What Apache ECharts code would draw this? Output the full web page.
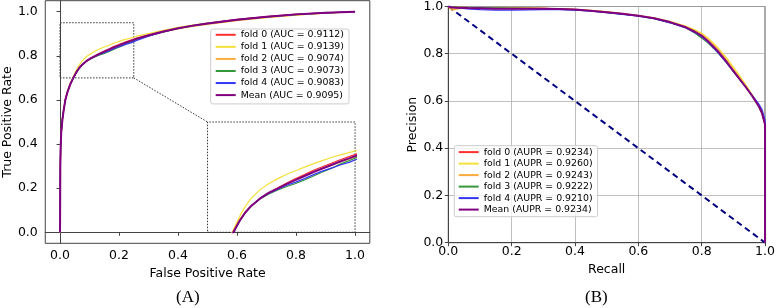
<!DOCTYPE html>
<html>
<head>
<meta charset="utf-8">
<script src="https://cdn.jsdelivr.net/npm/echarts@6/dist/echarts.min.js"></script>
<style>
  html, body { margin: 0; padding: 0; background: #fff; }
  #main { width: 778px; height: 308px; }
</style>
</head>
<body>
<div id="main"></div>
<script>
// ROC (A): shared false positive rate grid, tpr per fold
var fpr = [0, .001, .002, .004, .008, .012, .018, .025, .035, .045, .055, .065, .075, .09, .105, .12, .135, .15, .165, .18, .195, .21, .225, .24, .26, .3, .35, .4, .45, .5, .6, .7, .8, .9, 1];
var tprFold0 = [0, .31, .39, .46, .515, .552, .601, .636, .672, .700, .725, .745, .760, .777, .790, .801, .812, .822, .831, .841, .849, .857, .865, .872, .881, .895, .911, .926, .938, .948, .965, .978, .989, .995, 1];
var tprFold1 = [0, .29, .37, .44, .505, .55, .602, .639, .677, .706, .735, .759, .777, .797, .811, .822, .832, .840, .848, .856, .863, .870, .876, .881, .889, .901, .916, .929, .939, .948, .962, .974, .986, .994, 1];
var tprFold2 = [0, .30, .38, .45, .515, .555, .605, .640, .677, .704, .728, .746, .760, .777, .790, .800, .810, .819, .828, .837, .845, .852, .860, .867, .876, .891, .907, .922, .933, .943, .960, .973, .985, .994, 1];
var tprFold3 = [0, .30, .38, .45, .51, .55, .60, .635, .671, .699, .724, .744, .759, .776, .787, .796, .804, .811, .819, .828, .837, .845, .855, .863, .874, .890, .908, .924, .936, .946, .963, .976, .987, .995, 1];
var tprFold4 = [0, .30, .38, .45, .51, .55, .60, .635, .672, .699, .724, .745, .760, .777, .789, .798, .807, .814, .822, .831, .839, .846, .853, .859, .870, .889, .908, .924, .937, .947, .964, .977, .988, .995, 1];
var tprMean  = [0, .30, .38, .45, .51, .55, .60, .635, .672, .700, .725, .745, .760, .777, .790, .800, .810, .819, .828, .837, .845, .853, .861, .868, .878, .893, .910, .925, .937, .947, .964, .977, .988, .995, 1];
var rocNames = ['fold 0 (AUC = 0.9112)', 'fold 1 (AUC = 0.9139)', 'fold 2 (AUC = 0.9074)',
                'fold 3 (AUC = 0.9073)', 'fold 4 (AUC = 0.9083)', 'Mean (AUC = 0.9095)'];

// PR (B): shared recall grid, precision per fold
var recall = [0, .01, .03, .06, .1, .15, .2, .25, .3, .35, .4, .45, .5, .55, .6, .65, .7, .75, .78, .8, .82, .85, .88, .9, .92, .94, .96, .98, .99, 1, 1];
var precFold0 = [1, .998, .997, .996, .995, .995, .994, .993, .992, .99, .987, .982, .976, .969, .961, .95, .933, .911, .891, .875, .852, .81, .762, .727, .693, .659, .623, .582, .553, .5, 0];
var precFold1 = [1, .99, .992, .995, .995, .994, .994, .993, .992, .99, .988, .984, .978, .970, .962, .952, .937, .917, .900, .887, .867, .828, .78, .743, .706, .667, .626, .581, .551, .5, 0];
var precFold2 = [1, .985, .99, .994, .995, .994, .994, .993, .992, .99, .988, .983, .977, .970, .962, .951, .935, .914, .896, .882, .861, .821, .772, .735, .699, .662, .622, .578, .549, .5, 0];
var precFold3 = [1, .998, .997, .996, .995, .994, .993, .992, .991, .989, .986, .981, .975, .968, .96, .949, .932, .910, .886, .866, .845, .806, .759, .724, .690, .656, .619, .577, .548, .5, 0];
var precFold4 = [1, .997, .994, .99, .987, .985, .985, .986, .987, .987, .985, .98, .974, .967, .959, .948, .931, .909, .889, .872, .849, .807, .759, .724, .691, .658, .623, .588, .565, .52, 0];
var precMean  = [1, .996, .995, .994, .993, .991, .991, .991, .991, .989, .987, .982, .976, .969, .961, .95, .934, .912, .892, .876, .853, .812, .763, .727, .692, .657, .62, .578, .55, .5, 0];
var prNames = ['fold 0 (AUPR = 0.9234)', 'fold 1 (AUPR = 0.9260)', 'fold 2 (AUPR = 0.9243)',
               'fold 3 (AUPR = 0.9222)', 'fold 4 (AUPR = 0.9210)', 'Mean (AUPR = 0.9234)'];

// chance line in B
var baseRecall = [0, 1];
var basePrecision = [1, 0];

// tick positions for both panels
var tickValues = [0, 0.2, 0.4, 0.6, 0.8, 1.0];

var colors = ['#ff3030', '#f4e03a', '#fbac3c', '#35973a', '#3535f5', '#800080'];
var widths = [1.2, 1.2, 1.2, 1.2, 1.2, 2];

function pairs(xs, ys) {
  return xs.map(function (x, i) { return [x, ys[i]]; });
}

var rocY = [tprFold0, tprFold1, tprFold2, tprFold3, tprFold4, tprMean];
var prY = [precFold0, precFold1, precFold2, precFold3, precFold4, precMean];

var myChart = echarts.init(document.getElementById('main'), null, { renderer: 'canvas' });

var font = 'DejaVu Sans';
var spine = '#444';
function fmt(v) { return v.toFixed(1); }

var series = [];
// A main curves
rocY.forEach(function (ys, i) {
  var s = {
    name: rocNames[i], type: 'line', xAxisIndex: 0, yAxisIndex: 0,
    data: pairs(fpr, ys), showSymbol: false, symbol: 'none',
    color: colors[i], lineStyle: { width: widths[i], color: colors[i] }, z: 3 + i
  };
  if (i === 0) {
    // dotted zoom box, inset frame and connector
    s.markArea = {
      silent: true, label: { show: false },
      itemStyle: { color: 'rgba(0,0,0,0)', borderColor: '#333', borderWidth: 1, borderType: [1.5, 1.5] },
      data: [
        [{ coord: [0, 0.7] }, { coord: [0.25, 0.95] }],
        [{ coord: [0.5, 0] }, { coord: [1, 0.5] }]
      ]
    };
    s.markLine = {
      silent: true, symbol: ['none', 'none'], label: { show: false },
      lineStyle: { color: '#333', width: 1, type: [1.5, 1.5] },
      data: [[{ coord: [0.25, 0.7] }, { coord: [0.5, 0.5] }]]
    };
  }
  series.push(s);
});
// A inset curves
rocY.forEach(function (ys, i) {
  series.push({
    name: rocNames[i], type: 'line', xAxisIndex: 1, yAxisIndex: 1,
    data: pairs(fpr, ys), showSymbol: false, symbol: 'none', clip: true,
    color: colors[i], lineStyle: { width: widths[i], color: colors[i] }, z: 3 + i
  });
});
// B curves
prY.forEach(function (ys, i) {
  series.push({
    name: prNames[i], type: 'line', xAxisIndex: 2, yAxisIndex: 2,
    data: pairs(recall, ys), showSymbol: false, symbol: 'none', clip: false,
    color: colors[i], lineStyle: { width: widths[i], color: colors[i] }, z: 3 + i
  });
});
series.push({
  name: 'chance', type: 'line', xAxisIndex: 2, yAxisIndex: 2,
  data: pairs(baseRecall, basePrecision), showSymbol: false, symbol: 'none', clip: false,
  lineStyle: { width: 2, color: '#000080', type: [6, 4] }, z: 2
});

function axisA(name, gap, margin) {
  return {
    type: 'value', gridIndex: 0, min: -0.05, max: 1.05,
    axisLine: { show: true, lineStyle: { color: spine, width: 1 } },
    axisTick: { show: true, inside: false, length: 3.5, customValues: tickValues, lineStyle: { color: spine } },
    axisLabel: { color: '#000', fontFamily: font, fontSize: 12.5, margin: margin, customValues: tickValues, formatter: fmt },
    splitLine: { show: false },
    name: name, nameLocation: 'middle', nameGap: gap,
    nameTextStyle: { color: '#000', fontFamily: font, fontSize: 12.5 }
  };
}
function axisB(name, gap, margin) {
  return {
    type: 'value', gridIndex: 2, min: 0, max: 1, interval: 0.2,
    axisLine: { show: true, lineStyle: { color: spine, width: 1 } },
    axisTick: { show: true, inside: false, length: 3.5, lineStyle: { color: spine } },
    axisLabel: { color: '#000', fontFamily: font, fontSize: 12.5, margin: margin, formatter: fmt },
    splitLine: { show: true, lineStyle: { color: '#b0b0b0', width: 0.8 } },
    name: name, nameLocation: 'middle', nameGap: gap,
    nameTextStyle: { color: '#000', fontFamily: font, fontSize: 12.5 }
  };
}

var legendBase = {
  orient: 'vertical', itemWidth: 20, itemHeight: 12,
  backgroundColor: 'rgba(255,255,255,0.8)', borderColor: '#cccccc', borderWidth: 1, borderRadius: 2,
  itemStyle: { opacity: 0 },
  textStyle: { color: '#000', fontFamily: font, fontSize: 9.4 },
  selectedMode: false
};

option = {
  animation: false,
  textStyle: { fontFamily: font },
  title: [
    { text: '(A)', left: 176, top: 289, padding: 0,
      textStyle: { fontFamily: 'Liberation Serif', fontSize: 17, fontWeight: 'normal', color: '#000' } },
    { text: '(B)', left: 585, top: 289, padding: 0,
      textStyle: { fontFamily: 'Liberation Serif', fontSize: 17, fontWeight: 'normal', color: '#000' } }
  ],
  grid: [
    { left: 43.5, top: 0.7, width: 326.3, height: 242.6, show: true, borderColor: spine, borderWidth: 1, backgroundColor: 'transparent' },
    { left: 206.7, top: 122.3, width: 148.3, height: 110 },
    { left: 448.3, top: 5, width: 320, height: 237.7, show: true, borderColor: spine, borderWidth: 1, backgroundColor: 'transparent' }
  ],
  xAxis: [
    axisA('False Positive Rate', 22, 6),
    { type: 'value', gridIndex: 1, min: 0, max: 0.25, show: false },
    axisB('Recall', 21, 3)
  ],
  yAxis: [
    axisA('True Positive Rate', 31, 7.5),
    { type: 'value', gridIndex: 1, min: 0.7, max: 0.95, show: false },
    axisB('Precision', 29, 5)
  ],
  legend: [
    Object.assign({}, legendBase, { data: rocNames, left: 210.7, top: 29, itemGap: 2.46, padding: [1, 5, 4, 4] }),
    Object.assign({}, legendBase, { data: prNames, left: 454.3, top: 145.7, itemGap: 1.9, padding: [1.6, 5, 2.3, 3.4] })
  ],
  series: series
};

myChart.setOption(option);
</script>
</body>
</html>
